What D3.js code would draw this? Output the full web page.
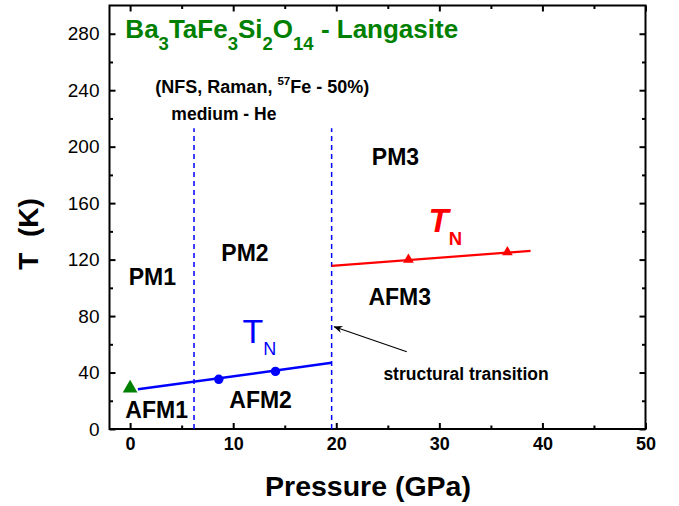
<!DOCTYPE html>
<html><head><meta charset="utf-8">
<script src="https://cdn.jsdelivr.net/npm/d3@7"></script>
<style>
html,body{margin:0;padding:0;background:#fff;}
text{font-family:"Liberation Sans",Arial,Helvetica,sans-serif;}
</style></head>
<body>
<svg id="chart" width="679" height="506"></svg>
<script>
// ---- data ----
const xTicks = [0, 10, 20, 30, 40, 50];
const xMinor = [5, 15, 25, 35, 45];
const yTicks = [0, 40, 80, 120, 160, 200, 240, 280];
const yMinor = [20, 60, 100, 140, 180, 220, 260];

const greenP = [0];
const greenT = [28.8];

const blueP = [8.6, 14.1];
const blueT = [35.2, 40.8];
const blueLineP = [0.75, 19.55];
const blueLineT = [28.1, 46.9];

const redP = [27.0, 36.6];
const redT = [120.0, 125.3];
const redLineP = [19.55, 38.85];
const redLineT = [115.6, 126.2];

const boundaryP = [6.2, 19.55];
const boundaryTop = 213;

const phaseNames = ["PM1", "PM2", "PM3", "AFM1", "AFM2", "AFM3"];
const phaseP = [-0.14, 8.85, 23.45, -0.46, 9.62, 23.12];
const phaseT = [101.9, 119.1, 187.3, 7.6, 14.6, 87.8];

const arrowFrom = [26.84, 54.7];
const arrowTo = [19.8, 72.4];

// ---- layout ----
const svg = d3.select("#chart");
const x = d3.scaleLinear().domain([-2, 50]).range([109.5, 645.5]);
const y = d3.scaleLinear().domain([0, 300]).range([429, 5.5]);
const green = "#008000", blue = "#0000ff", red = "#ff0000";

// frame
svg.append("rect").attr("x", x(-2)).attr("y", y(300))
  .attr("width", x(50) - x(-2)).attr("height", y(0) - y(300))
  .attr("fill", "none").attr("stroke", "#000").attr("stroke-width", 2);

function styleAxis(g, fs, fw) {
  g.select(".domain").remove();
  g.selectAll("line").attr("stroke", "#000").attr("stroke-width", 2);
  g.selectAll("text").attr("font-size", fs).attr("font-weight", fw).attr("fill", "#000")
    .style("font-family", '"Liberation Sans",Arial,Helvetica,sans-serif');
}

// bottom
svg.append("g").attr("transform", `translate(0,${y(0)})`)
  .call(d3.axisBottom(x).tickValues(xTicks).tickSize(-6).tickPadding(8).tickFormat(d3.format("d")))
  .call(g => styleAxis(g, 18, "bold"));
svg.append("g").attr("transform", `translate(0,${y(0)})`)
  .call(d3.axisBottom(x).tickValues(xMinor).tickSize(-3.5).tickFormat(""))
  .call(g => styleAxis(g, 18, "bold"));
// top
svg.append("g").attr("transform", `translate(0,${y(300)})`)
  .call(d3.axisTop(x).tickValues(xTicks).tickSize(-6).tickFormat(""))
  .call(g => styleAxis(g, 18, "normal"));
svg.append("g").attr("transform", `translate(0,${y(300)})`)
  .call(d3.axisTop(x).tickValues(xMinor).tickSize(-3.5).tickFormat(""))
  .call(g => styleAxis(g, 18, "normal"));
// left
svg.append("g").attr("transform", `translate(${x(-2)},0)`)
  .call(d3.axisLeft(y).tickValues(yTicks).tickSize(-6).tickPadding(10).tickFormat(d3.format("d")))
  .call(g => styleAxis(g, 19, "normal"));
svg.append("g").attr("transform", `translate(${x(-2)},0)`)
  .call(d3.axisLeft(y).tickValues(yMinor).tickSize(-3.5).tickFormat(""))
  .call(g => styleAxis(g, 19, "normal"));
// right
svg.append("g").attr("transform", `translate(${x(50)},0)`)
  .call(d3.axisRight(y).tickValues(yTicks).tickSize(-6).tickFormat(""))
  .call(g => styleAxis(g, 19, "normal"));
svg.append("g").attr("transform", `translate(${x(50)},0)`)
  .call(d3.axisRight(y).tickValues(yMinor).tickSize(-3.5).tickFormat(""))
  .call(g => styleAxis(g, 19, "normal"));

// axis titles
svg.append("text").attr("x", 368).attr("y", 496)
  .attr("text-anchor", "middle").attr("font-size", 28.5).attr("font-weight", "bold")
  .text("Pressure (GPa)");
svg.append("text").attr("transform", `translate(38,234) rotate(-90)`)
  .attr("text-anchor", "middle").attr("font-size", 28).attr("font-weight", "bold")
  .attr("xml:space", "preserve").style("white-space", "pre")
  .text("T  (K)");

// boundaries
svg.selectAll(".bd").data(boundaryP).enter().append("line")
  .attr("x1", d => x(d)).attr("x2", d => x(d))
  .attr("y1", y(0)).attr("y2", y(boundaryTop))
  .attr("stroke", blue).attr("stroke-width", 1.5).attr("stroke-dasharray", "5,4");

// lines
const line = d3.line().x(d => x(d[0])).y(d => y(d[1]));
svg.append("path").datum(d3.zip(blueLineP, blueLineT)).attr("d", line)
  .attr("fill", "none").attr("stroke", blue).attr("stroke-width", 2.5);
svg.append("path").datum(d3.zip(redLineP, redLineT)).attr("d", line)
  .attr("fill", "none").attr("stroke", red).attr("stroke-width", 2.2);

// markers
svg.selectAll(".bc").data(d3.zip(blueP, blueT)).enter().append("circle")
  .attr("cx", d => x(d[0])).attr("cy", d => y(d[1])).attr("r", 4.7).attr("fill", blue);
svg.selectAll(".rt").data(d3.zip(redP, redT)).enter().append("path")
  .attr("d", d3.symbol().type(d3.symbolTriangle).size(50))
  .attr("transform", d => `translate(${x(d[0])},${y(d[1])})`).attr("fill", red);
svg.selectAll(".gt").data(d3.zip(greenP, greenT)).enter().append("path")
  .attr("d", d3.symbol().type(d3.symbolTriangle).size(94))
  .attr("transform", d => `translate(${x(d[0])},${y(d[1])})`).attr("fill", green);

// phase labels
svg.selectAll(".ph").data(phaseNames).enter().append("text")
  .attr("x", (d, i) => x(phaseP[i])).attr("y", (d, i) => y(phaseT[i]))
  .attr("font-size", 23).attr("font-weight", "bold").attr("fill", "#000").text(d => d);

// title
const title = svg.append("text").attr("x", x(-0.46)).attr("y", y(277.2))
  .attr("font-size", 26).attr("font-weight", "bold").attr("fill", green);
const parts = [["Ba", 0], ["3", 1], ["TaFe", 0], ["3", 1], ["Si", 0], ["2", 1], ["O", 0], ["14", 1], [" - Langasite", 0]];
let prevSub = false;
parts.forEach(([t, sub]) => {
  const ts = title.append("tspan").text(t).attr("xml:space", "preserve");
  if (sub) { ts.attr("font-size", 18.5).attr("dy", prevSub ? 0 : 12); }
  else if (prevSub) { ts.attr("dy", -12); }
  prevSub = !!sub;
});

// method note
const note = svg.append("text").attr("x", x(2.45)).attr("y", y(238.3))
  .attr("font-size", 18).attr("font-weight", "bold").attr("fill", "#000");
note.append("tspan").text("(NFS, Raman, ");
note.append("tspan").text("57").attr("font-size", 11.5).attr("dy", -8);
note.append("tspan").text("Fe - 50%)").attr("dy", 8);
svg.append("text").attr("x", x(4.0)).attr("y", y(218.7))
  .attr("font-size", 17.5).attr("font-weight", "bold").text("medium - He");

// TN labels
const tb = svg.append("text").attr("x", x(10.9)).attr("y", y(61.1)).attr("fill", blue)
  .attr("font-size", 34);
tb.append("tspan").text("T");
tb.append("tspan").text("N").attr("font-size", 18).attr("dy", 12.5);

const tr = svg.append("text").attr("x", x(28.95)).attr("y", y(139.2)).attr("fill", red)
  .attr("font-size", 33).attr("font-weight", "bold");
tr.append("tspan").text("T").attr("font-style", "italic");
tr.append("tspan").text("N").attr("font-size", 18.5).attr("dy", 12.7);

// arrow
svg.append("defs").append("marker").attr("id", "ah")
  .attr("viewBox", "0 0 10 10").attr("refX", 9).attr("refY", 5)
  .attr("markerWidth", 9).attr("markerHeight", 9).attr("markerUnits", "userSpaceOnUse")
  .attr("orient", "auto")
  .append("path").attr("d", "M0,1 L10,5 L0,9 L3,5 Z").attr("fill", "#000");
svg.append("line").attr("x1", x(arrowFrom[0])).attr("y1", y(arrowFrom[1]))
  .attr("x2", x(arrowTo[0])).attr("y2", y(arrowTo[1]))
  .attr("stroke", "#000").attr("stroke-width", 1.1).attr("marker-end", "url(#ah)");
svg.append("text").attr("x", x(24.57)).attr("y", y(34.7))
  .attr("font-size", 17.5).attr("font-weight", "bold").text("structural transition");
</script>
</body></html>
